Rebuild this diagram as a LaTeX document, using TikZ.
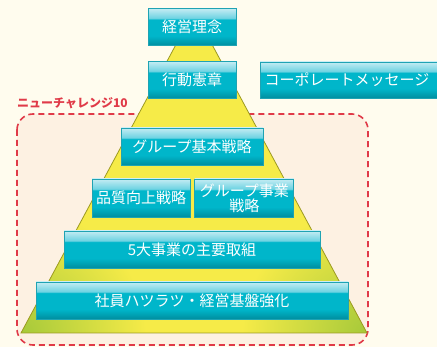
\documentclass[tikz,border=0pt]{standalone}
\usepackage{fontspec}
\newfontfamily\jpfont{Noto Sans CJK JP}
\usetikzlibrary{positioning}

\definecolor{bgcream}{HTML}{FFFCEE}
\definecolor{areafill}{HTML}{FDF1E2}
\definecolor{areared}{HTML}{E03A48}
\definecolor{pyryellow}{HTML}{F6EB48}
\definecolor{pyrgreen}{HTML}{A6C93A}
\definecolor{pyredge}{HTML}{9C9A22}
\definecolor{tealtop}{HTML}{C4ECF3}
\definecolor{teallight}{HTML}{6ED3E2}
\definecolor{tealmid}{HTML}{00B6CA}
\definecolor{tealdark}{HTML}{008E9F}
\definecolor{tealedge}{HTML}{1FA3B3}

\pgfdeclareverticalshading{tealglass}{100bp}{%
  color(0bp)=(tealdark); color(25bp)=(tealdark); color(38bp)=(tealmid);
  color(60bp)=(tealmid); color(62bp)=(teallight); color(75bp)=(tealtop);
  color(100bp)=(tealtop)}

\begin{document}
\begin{tikzpicture}[
			x=1pt, y=-1pt,
			stage/.style={
				draw=tealedge,
				line width=0.8pt,
				shading=tealglass,
				text=white,
				inner sep=0pt,
				minimum height=37,
				align=center,
				font=\jpfont\fontsize{15}{15}\selectfont
			},
			challenge/.style={
				draw=areared,
				fill=areafill,
				line width=1.6pt,
				dash pattern=on 6pt off 4pt,
				rounded corners=16
			},
			pyramid/.style={
				draw=pyredge,
				line width=0.8pt
			}
		]

		\clip (0,0) rectangle (437,347);
		\fill[bgcream] (0,0) rectangle (437,347);

		% frame of the new challenge
		\draw[challenge] (17,114) rectangle (368,345);
		\node [anchor=west, inner sep=0, text=areared,
			font=\jpfont\bfseries\fontsize{12}{12}\selectfont] (NC) at (17,103) {ニューチャレンジ10};

		% pyramid
		\coordinate (top) at (194,11);
		\coordinate (left) at (21,333);
		\coordinate (right) at (367,333);
		\begin{scope}
			\clip (top) -- (left) -- (right) -- cycle;
			\fill[pyryellow] (0,0) rectangle (437,347);
			\shade[inner color=pyrgreen, outer color=pyryellow] (left) circle (125);
			\shade[inner color=pyrgreen, outer color=pyryellow] (right) circle (125);
		\end{scope}
		\draw[pyramid] (top) -- (left) -- (right) -- cycle;

		% stages
		\node [stage, minimum width=88] (PH) at (192,27) {経営理念};
		\node [stage, minimum width=88] (CODE) at (192,80) {行動憲章};
		\node [stage, minimum width=180, minimum height=36] (MSG) at (350,80) {\hspace*{-6pt}コーポレートメッセージ};
		\node [stage, minimum width=142] (GRP) at (192,146.5) {グループ基本戦略};
		\node [stage, minimum width=98, minimum height=38] (QUAL) at (141,198) {品質向上戦略};
		\node [stage, minimum width=99, minimum height=38, right=4 of QUAL] (BIZ) {グループ事業\\戦略};
		\node [stage, minimum width=256] (FIVE) at (192,249.5) {5大事業の主要取組};
		\node [stage, minimum width=312] (BASE) at (192,300.5) {社員ハツラツ・経営基盤強化};

	\end{tikzpicture}
\end{document}
